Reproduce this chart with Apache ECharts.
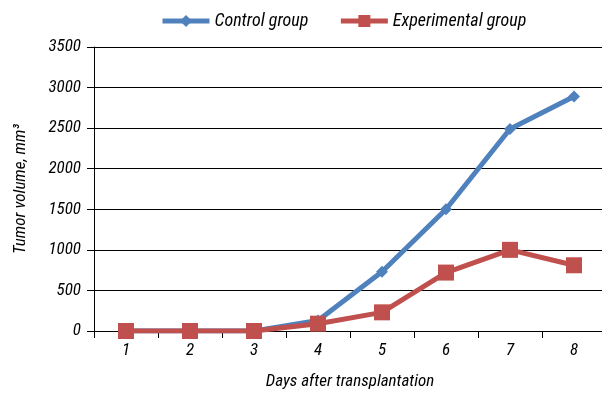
<!DOCTYPE html>
<html><head><meta charset="utf-8">
<script src="https://cdn.jsdelivr.net/npm/echarts@6/dist/echarts.min.js"></script>
<style>html,body{margin:0;padding:0;background:#fff}#c{width:602px;height:393px}</style>
</head><body><div id="c"></div>
<script>
const days = ['1','2','3','4','5','6','7','8'];
const controlGroup = [0, 0, 0, 130, 730, 1500, 2490, 2890];
const experimentalGroup = [0, 0, 0, 90, 230, 720, 1000, 810];
const yTicks = [0, 500, 1000, 1500, 2000, 2500, 3000, 3500];

const FONT = '"Liberation Sans Narrow", "Arial Narrow", "Roboto Condensed", sans-serif';
const chart = echarts.init(document.getElementById('c'));
chart.setOption({
  animation: false,
  textStyle: {fontFamily: FONT, fontStyle: 'italic', color: '#000'},
  legend: {
    top: 7, left: 155, itemGap: 30, itemWidth: 47, itemHeight: 15,
    lineStyle: {width: 5},
    textStyle: {fontFamily: FONT, fontStyle: 'italic', fontSize: 18, color: '#000'},
    data: ['Control group', 'Experimental group']
  },
  grid: {left: 94, right: -4, top: 47, bottom: 62, outerBoundsMode: 'none', containLabel: false},
  xAxis: {
    type: 'category', data: days, boundaryGap: true,
    name: 'Days after transplantation', nameLocation: 'middle', nameGap: 42,
    nameTextStyle: {fontFamily: FONT, fontStyle: 'italic', fontSize: 17, color: '#000'},
    axisLine: {lineStyle: {color: '#000', width: 1}},
    axisTick: {show: true, length: 7, lineStyle: {color: '#000'}},
    axisLabel: {fontFamily: FONT, fontStyle: 'italic', fontSize: 17, color: '#000', margin: 11},
    splitLine: {show: false}
  },
  yAxis: {
    type: 'value', min: yTicks[0], max: yTicks[yTicks.length-1], interval: 500,
    name: 'Tumor volume, mm³', nameLocation: 'middle', nameGap: 65,
    nameTextStyle: {fontFamily: FONT, fontStyle: 'italic', fontSize: 17, color: '#000'},
    axisLine: {show: true, lineStyle: {color: '#000', width: 1}},
    axisTick: {show: true, length: 7, lineStyle: {color: '#000'}},
    axisLabel: {fontFamily: FONT, fontStyle: 'italic', fontSize: 17, color: '#000', margin: 13,
      formatter: v => String(v)},
    splitLine: {show: true, lineStyle: {color: '#000', width: 1}}
  },
  series: [
    {name: 'Control group', type: 'line', data: controlGroup,
     symbol: 'diamond', symbolSize: 12,
     lineStyle: {color: '#4f81bd', width: 5}, itemStyle: {color: '#4f81bd'}, z: 2},
    {name: 'Experimental group', type: 'line', data: experimentalGroup,
     symbol: 'rect', symbolSize: 16,
     lineStyle: {color: '#c0504d', width: 5}, itemStyle: {color: '#c0504d'}, z: 3}
  ]
});
</script></body></html>
